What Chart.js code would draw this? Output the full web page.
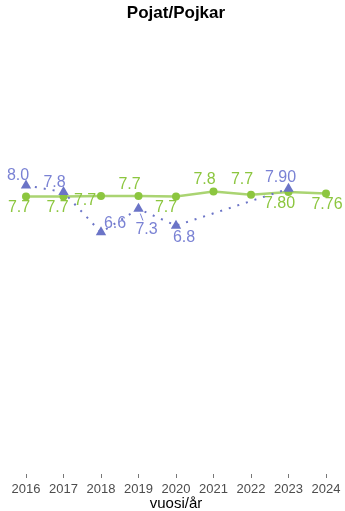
<!DOCTYPE html>
<html>
<head>
<meta charset="utf-8">
<script src="https://cdn.jsdelivr.net/npm/chart.js@4"></script>
<style>
  html, body { margin: 0; padding: 0; background: #fff; }
  #wrap { width: 345px; height: 511px; }
</style>
</head>
<body>
<div id="wrap"><canvas id="chart"></canvas></div>
<script>
// Vuodet
const years = ['2016', '2017', '2018', '2019', '2020', '2021', '2022', '2023', '2024'];

// Vihreä sarja (ympyrät)
const greenValues = [7.67, 7.67, 7.68, 7.68, 7.67, 7.82, 7.72, 7.80, 7.76];
const greenLabels = ['7.7', '7.7', '7.7', '7.7', '7.7', '7.8', '7.7', '7.80', '7.76'];

// Sininen sarja (kolmiot)
const blueValues = [8.0, 7.8, 6.6, 7.3, 6.8, null, null, 7.90, null];
const blueLabels = ['8.0', '7.8', '6.6', '7.3', '6.8', '', '', '7.90', ''];

const colorGreen = '#8cc63f';
const colorGreenLine = '#aad472';
const colorBlue = '#6b74c7';
const colorBlueText = '#7a82d4';
const fontFamily = "'Liberation Sans', Arial, sans-serif";

// Tekstien siirrot pisteestä (px)
const greenOffsets = [[-7, 11], [-6, 11], [-16, 4], [-9, -12], [-10, 11], [-9, -12], [-9, -15], [-9, 12], [1, 11]];
const blueOffsets = [[-8, -10], [-9, -9], [14, -9], [8, 21], [8, 12], null, null, [-8, -11], null];

const pointLabels = {
    id: 'pointLabels',
    afterDatasetsDraw(chart) {
        const ctx = chart.ctx;
        ctx.save();
        ctx.font = '16px ' + fontFamily;
        ctx.textAlign = 'center';
        ctx.textBaseline = 'middle';
        chart.data.datasets.forEach((ds, di) => {
            const meta = chart.getDatasetMeta(di);
            meta.data.forEach((pt, i) => {
                const text = ds.pointText[i];
                const off = ds.textOffsets[i];
                if (!text || !off || ds.data[i] === null) return;
                const x = pt.x + off[0];
                const y = pt.y + off[1];
                ctx.fillStyle = ds.textColor;
                ctx.fillText(text, x, y);
                // yhdysviiva kun teksti on kaukana
                const d = Math.hypot(off[0], off[1]);
                if (d > 20) {
                    ctx.strokeStyle = ds.textColor;
                    ctx.lineWidth = 1;
                    ctx.beginPath();
                    ctx.moveTo(pt.x + off[0] * 5 / d, pt.y + off[1] * 5 / d);
                    ctx.lineTo(pt.x + off[0] * (d - 10) / d, pt.y + off[1] * (d - 10) / d);
                    ctx.stroke();
                }
            });
        });
        ctx.restore();
    }
};

new Chart(document.getElementById('chart'), {
    type: 'line',
    data: {
        labels: years,
        datasets: [
            {
                data: blueValues,
                pointText: blueLabels,
                textOffsets: blueOffsets,
                textColor: colorBlueText,
                borderColor: colorBlue,
                backgroundColor: colorBlue,
                borderWidth: 2,
                borderDash: [2, 7],
                pointStyle: 'triangle',
                pointRadius: 6,
                pointBorderWidth: 0,
                spanGaps: true,
                order: 0
            },
            {
                data: greenValues,
                pointText: greenLabels,
                textOffsets: greenOffsets,
                textColor: colorGreen,
                borderColor: colorGreenLine,
                backgroundColor: colorGreen,
                borderWidth: 2.5,
                pointRadius: 4,
                pointBorderWidth: 0,
                order: 1
            }
        ]
    },
    options: {
        responsive: true,
        maintainAspectRatio: false,
        animation: false,
        layout: { padding: { left: 26, right: 19, top: 0, bottom: 0 } },
        plugins: {
            legend: { display: false },
            tooltip: { enabled: false },
            title: {
                display: true,
                text: 'Pojat/Pojkar',
                color: '#000',
                font: { size: 17, weight: 'bold', family: fontFamily, lineHeight: 1.2 },
                padding: { top: 3, bottom: 7.6 }
            }
        },
        scales: {
            y: {
                display: false,
                min: -0.6,
                max: 12.6
            },
            x: {
                offset: false,
                afterFit(scale) { scale.height = 37; },
                grid: {
                    drawOnChartArea: false,
                    drawTicks: true,
                    tickLength: 4,
                    color: '#777'
                },
                border: { display: false },
                ticks: {
                    color: '#4d4d4d',
                    padding: 4,
                    maxRotation: 0,
                    autoSkip: false,
                    font: { size: 13, family: fontFamily, lineHeight: 1.2 }
                },
                title: {
                    display: true,
                    text: 'vuosi/år',
                    color: '#000',
                    padding: { top: 0, bottom: 0 },
                    font: { size: 15, family: fontFamily, lineHeight: 1 }
                }
            }
        }
    },
    plugins: [pointLabels]
});
</script>
</body>
</html>
